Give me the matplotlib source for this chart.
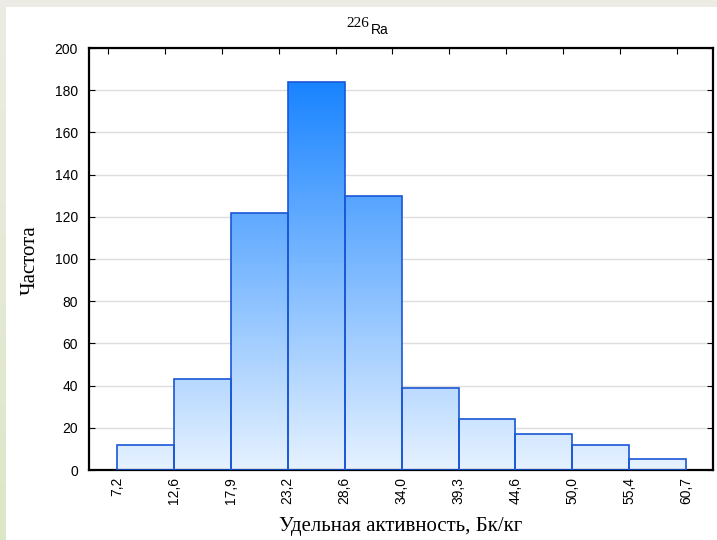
import matplotlib
matplotlib.use("Agg")
import matplotlib.pyplot as plt
import numpy as np
from matplotlib.colors import LinearSegmentedColormap
from matplotlib.patches import Rectangle

bin_labels = ["7,2", "12,6", "17,9", "23,2", "28,6", "34,0", "39,3", "44,6", "50,0", "55,4", "60,7"]
counts = [12, 43, 122, 184, 130, 39, 24, 17, 12, 5]
y_ticks = [0, 20, 40, 60, 80, 100, 120, 140, 160, 180, 200]

W, H = 717, 540
fig = plt.figure(figsize=(W / 100, H / 100), dpi=100)
fig.patch.set_facecolor("white")

# background bands
bg = fig.add_axes([0, 0, 1, 1], zorder=-10)
bg.set_xlim(0, W); bg.set_ylim(H, 0); bg.axis("off")
bg.add_patch(Rectangle((0, 0), W, 7, color="#ecece4", lw=0))
grad = np.linspace(0, 1, 200).reshape(-1, 1)
band_cmap = LinearSegmentedColormap.from_list("band", ["#ecece4", "#dce7c6"])
bg.imshow(grad, extent=(0, 6, H, 0), cmap=band_cmap, aspect="auto")

x0, x1 = 89, 713
y0, y1 = 48, 470
ax = fig.add_axes([x0 / W, 1 - y1 / H, (x1 - x0) / W, (y1 - y0) / H])

n = len(counts)
cmap = LinearSegmentedColormap.from_list("bars", ["#e6f2ff", "#1280ff"])
gimg = np.linspace(0, 1, 256).reshape(-1, 1)
for i, c in enumerate(counts):
    rect = Rectangle((i, 0), 1, c, facecolor="none", edgecolor="#1a56d6", lw=1.2, zorder=3)
    ax.add_patch(rect)
    im = ax.imshow(gimg, extent=(i, i + 1, 0, 190), origin="lower", cmap=cmap,
                   aspect="auto", zorder=2)
    clip = Rectangle((i, 0), 1, c, transform=ax.transData)
    im.set_clip_path(clip)
ax.set_xlim(-0.49, n + 0.47)
ax.set_ylim(0, 200)

ax.set_yticks(y_ticks)
ax.set_yticklabels([str(v) for v in y_ticks], fontsize=10, family="Liberation Sans")
ax.yaxis.grid(True, color="#dddddd", lw=1)
ax.set_axisbelow(True)
ax.tick_params(axis="y", direction="in", length=4, right=True, left=True, pad=8)

ax.set_xticks(np.arange(len(bin_labels)))
ax.set_xticklabels(bin_labels, rotation=90, fontsize=10, family="Liberation Sans")
ax.tick_params(axis="x", length=0, pad=5)

for s in ax.spines.values():
    s.set_linewidth(1.6)
    s.set_color("black")

top = ax.twiny()
top.set_xlim(ax.get_xlim())
top.set_xticks(np.arange(len(bin_labels)) - 0.16)
top.set_xticklabels([])
top.tick_params(axis="x", direction="in", length=4)
for s in top.spines.values():
    s.set_visible(False)

fig.text(401 / W, 1 - 526 / H, "Удельная активность, Бк/кг", fontsize=15,
         family="Liberation Serif", ha="center", va="center")
fig.text(30 / W, 1 - 260 / H, "Частота", fontsize=15, family="Liberation Serif",
         ha="center", va="center", rotation=90)

fig.text(371 / W, 1 - 34 / H, "Ra", fontsize=10, family="Liberation Sans", ha="left", va="baseline")
fig.text(369 / W, 1 - 27 / H, "226", fontsize=11, family="Liberation Serif", ha="right", va="baseline")

fig.savefig("out.png", dpi=100, facecolor=fig.get_facecolor())
